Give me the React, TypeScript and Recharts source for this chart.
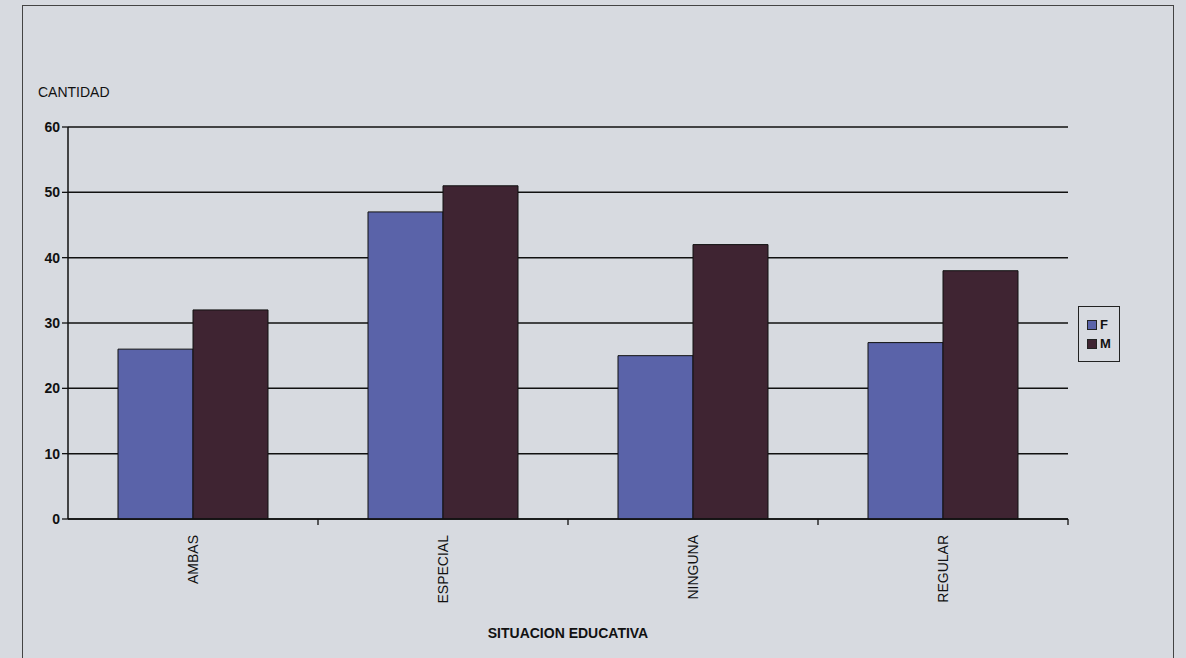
import React from "react";
import { BarChart, Bar, XAxis, YAxis, CartesianGrid, Legend } from "recharts";

const categories = ["AMBAS", "ESPECIAL", "NINGUNA", "REGULAR"];
const valuesF = [26, 47, 25, 27];
const valuesM = [32, 51, 42, 38];
const yTicks = [0, 10, 20, 30, 40, 50, 60];

const data = categories.map((c, i) => ({ name: c, F: valuesF[i], M: valuesM[i] }));

const COLOR_F = "#5a63a9";
const COLOR_M = "#3f2432";
const FONT = "'Liberation Sans', Arial, sans-serif";

const XTick = (props: any) => {
  const { x, y, payload } = props;
  return (
    <g>
      <line x1={x + 125} x2={x + 125} y1={y - 8} y2={y - 2} stroke="#111" strokeWidth={1.3} />
      <text
        x={x}
        y={y + 8}
        transform={`rotate(-90, ${x}, ${y + 8})`}
        textAnchor="end"
        dominantBaseline="central"
        fontSize={14}
        fontFamily={FONT}
        fill="#111"
      >
        {payload.value}
      </text>
    </g>
  );
};

const LegendContent = () => (
  <div
    style={{
      border: "1.5px solid #222",
      padding: "6px 8px",
      fontFamily: FONT,
      fontWeight: "bold",
      fontSize: 13,
      color: "#111",
      background: "transparent",
      width: 24,
    }}
  >
    {[
      { k: "F", c: COLOR_F },
      { k: "M", c: COLOR_M },
    ].map((e) => (
      <div key={e.k} style={{ display: "flex", alignItems: "center", margin: "4px 0" }}>
        <span
          style={{
            display: "inline-block",
            width: 8,
            height: 8,
            background: e.c,
            border: "1px solid #222",
            marginRight: 3,
          }}
        />
        {e.k}
      </div>
    ))}
  </div>
);

export default function App() {
  return (
    <div
      style={{
        position: "absolute",
        left: 0,
        top: 0,
        width: 1186,
        height: 658,
        background: "#d7dae0",
        overflow: "hidden",
      }}
    >
      <div
        style={{
          position: "absolute",
          left: 22,
          top: 5,
          width: 1150,
          height: 700,
          border: "1px solid #444",
        }}
      />
      <div
        style={{
          position: "absolute",
          left: 38,
          top: 84,
          fontFamily: FONT,
          fontSize: 14,
          color: "#111",
        }}
      >
        CANTIDAD
      </div>
      <div
        style={{
          position: "absolute",
          left: 68,
          width: 1000,
          top: 625,
          textAlign: "center",
          fontFamily: FONT,
          fontWeight: "bold",
          fontSize: 14,
          color: "#111",
        }}
      >
        SITUACION EDUCATIVA
      </div>
      <div style={{ position: "absolute", left: 0, top: 0 }}>
        <BarChart
          width={1186}
          height={658}
          data={data}
          margin={{ top: 127, right: 76, left: 28, bottom: 39 }}
          barGap={0}
          barCategoryGap="20%"
        >
          <CartesianGrid vertical={false} horizontal={true} stroke="#111" strokeWidth={1.5} />
          <XAxis
            dataKey="name"
            height={100}
            axisLine={{ stroke: "#111", strokeWidth: 1.5 }}
            tickLine={false}
            tick={<XTick />}
            interval={0}
          />
          <YAxis
            width={40}
            domain={[0, 60]}
            ticks={yTicks}
            axisLine={{ stroke: "#111", strokeWidth: 1.5 }}
            tickLine={{ stroke: "#111", strokeWidth: 1.3 }}
            tickSize={6}
            tick={{ fontFamily: FONT, fontWeight: "bold", fontSize: 14, fill: "#111" }}
          />
          <Legend
            layout="vertical"
            align="right"
            verticalAlign="middle"
            content={<LegendContent />}
            wrapperStyle={{ right: 66, top: 306 }}
          />
          <Bar dataKey="F" fill={COLOR_F} stroke="#111" strokeWidth={1} isAnimationActive={false} />
          <Bar dataKey="M" fill={COLOR_M} stroke="#111" strokeWidth={1} isAnimationActive={false} />
        </BarChart>
      </div>
    </div>
  );
}
